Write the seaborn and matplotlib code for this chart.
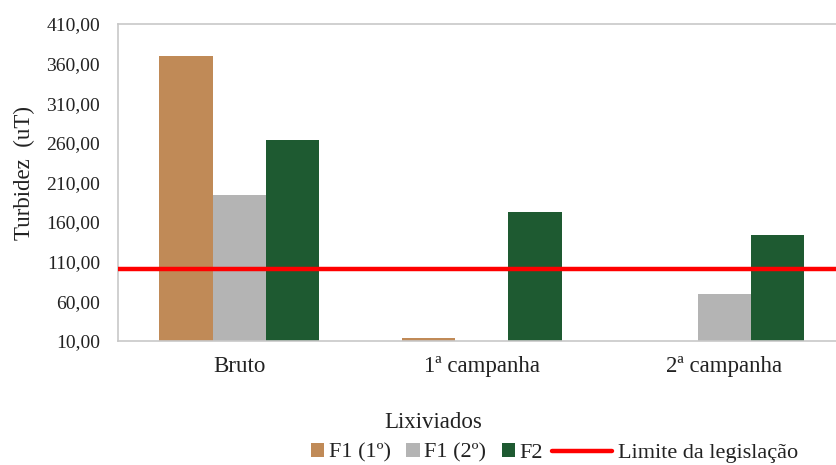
import matplotlib
matplotlib.use("Agg")
import matplotlib.pyplot as plt
import seaborn as sns
import pandas as pd
import numpy as np
from matplotlib.patches import Patch
from matplotlib.lines import Line2D
from matplotlib.ticker import FixedLocator

# ---- data ----
categories = ["Bruto", "1ª campanha", "2ª campanha"]
series = ["F1 (1º)", "F1 (2º)", "F2"]
f1_1 = [370.0, 13.0, np.nan]
f1_2 = [194.0, np.nan, 69.0]
f2 = [264.0, 173.0, 144.0]
limite = 100.0
limite_label = "Limite da legislação"
ytick_values = [10, 60, 110, 160, 210, 260, 310, 360, 410]
ytick_labels = ["10,00", "60,00", "110,00", "160,00", "210,00",
                "260,00", "310,00", "360,00", "410,00"]

colors = {"F1 (1º)": "#C08A57", "F1 (2º)": "#B4B4B4", "F2": "#1E5A31"}

rows = []
for name, vals in zip(series, [f1_1, f1_2, f2]):
    for c, v in zip(categories, vals):
        if not np.isnan(v):
            rows.append({"Lixiviados": c, "Série": name, "Turbidez": v})
df = pd.DataFrame(rows)

sns.set_theme(style="white")
plt.rcParams["font.family"] = ["Liberation Serif", "DejaVu Serif"]

fig = plt.figure(figsize=(8.37, 4.65), dpi=100)
ax = fig.add_axes([118 / 837, 1 - 340.7 / 465, 727.5 / 837, (340.7 - 24) / 465])

sns.barplot(data=df, x="Lixiviados", y="Turbidez", hue="Série",
            order=categories, hue_order=series, palette=colors,
            width=0.66, dodge=True, errorbar=None, saturation=1,
            linewidth=0, ax=ax, legend=False)

ax.axhline(limite, color="#FF0000", lw=3.2, zorder=5)

ax.set_xlim(-0.5, 2.5)
ax.set_ylim(10, 410)
ax.set_yticks(ytick_values)
ax.set_yticklabels(ytick_labels)
ax.tick_params(axis="y", length=0, pad=13, labelsize=14, colors="#222222")
ax.tick_params(axis="x", which="major", length=0, pad=11, labelsize=16.5, colors="#222222")
ax.xaxis.set_minor_locator(FixedLocator([0.5, 1.5]))
ax.tick_params(axis="x", which="minor", length=5, width=1, color="#D0D0D0", direction="out")

for s in ["left", "top", "bottom", "right"]:
    ax.spines[s].set_visible(True)
    ax.spines[s].set_color("#C8C8C8")
    ax.spines[s].set_linewidth(1.2)

ax.set_xlabel("Lixiviados", fontsize=16.5, color="#222222")
ax.xaxis.set_label_coords(0.433, -0.225)
ax.set_ylabel("Turbidez  (uT)", fontsize=16.5, color="#222222")
ax.yaxis.label.set_va("center")
ax.yaxis.set_label_coords(-0.128, 0.53)

handles1 = [Patch(facecolor=colors[s], edgecolor="none") for s in series]
leg1 = fig.legend(handles1, series, loc="center",
                  bbox_to_anchor=(427 / 837, 1 - 453 / 465), ncol=3,
                  frameon=False, fontsize=16, handlelength=0.6, handleheight=0.6,
                  handletextpad=0.2, columnspacing=0.7, borderpad=0, borderaxespad=0)
for t in leg1.get_texts():
    t.set_color("#222222")
handles2 = [Line2D([], [], color="#FF0000", lw=3.2)]
leg2 = fig.legend(handles2, [limite_label], loc="center",
                  bbox_to_anchor=(675 / 837, 1 - 453 / 465),
                  frameon=False, fontsize=16, handlelength=2.7,
                  handletextpad=0.25, borderpad=0, borderaxespad=0)
for t in leg2.get_texts():
    t.set_color("#222222")

fig.savefig("out.png", dpi=100)
